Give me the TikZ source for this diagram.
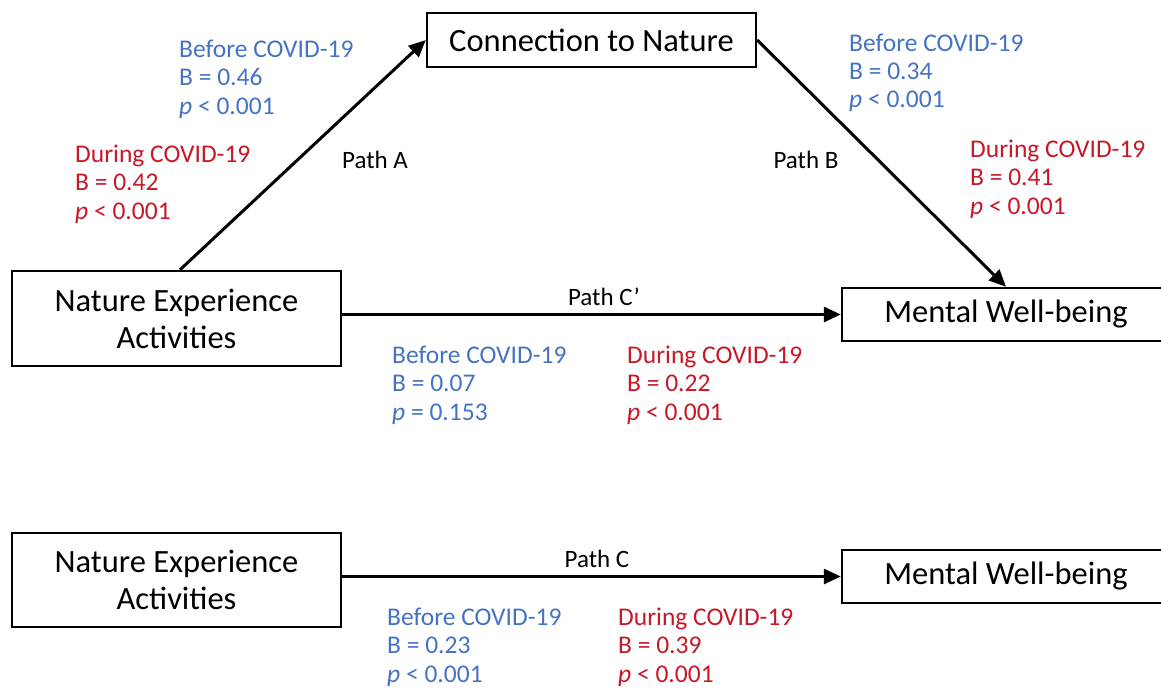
\documentclass[tikz,border=0pt]{standalone}
\usepackage{fontspec}
\setmainfont{Carlito}
\usetikzlibrary{arrows.meta,calc}
\definecolor{bcol}{RGB}{68,114,196}
\definecolor{rcol}{RGB}{198,24,38}
\begin{document}
\begin{tikzpicture}[x=1pt,y=-1pt,
  box/.style={draw=black,line width=2.4pt,fill=white,align=center,inner sep=0pt,
    font=\fontsize{32.5}{37}\selectfont},
  arr/.style={line width=3pt,-{Triangle[length=17pt,width=15pt]}},
  lbl/.style={anchor=base west,align=left,inner sep=0pt,font=\fontsize{25.5}{28.4}\selectfont},
  plbl/.style={anchor=base,inner sep=0pt,font=\fontsize{25}{28.4}\selectfont}]
\useasboundingbox (0,0) rectangle (1161,690);
% boxes
\node[box,minimum width=329pt,minimum height=54pt] (cn) at (591.5,40) {Connection to Nature};
\node[box,minimum width=329pt,minimum height=95pt] (nea) at (176.5,318.5) {Nature Experience\\Activities};
\node[box,minimum width=328pt,minimum height=53pt] (mwb) at (1006,314.5) {Mental Well-being};
\node[box,minimum width=329pt,minimum height=94pt] (nea2) at (176.5,580) {Nature Experience\\Activities};
\node[box,minimum width=328pt,minimum height=53pt] (mwb2) at (1006,576.5) {Mental Well-being};
% connectors
\draw[arr] ($(nea.north)+(3.5,0)$) -- (cn.west);
\draw[arr] (cn.east) -- (mwb.north);
\draw[arr] (nea.east |- mwb.west) -- (mwb.west);
\draw[arr] (nea2.east |- mwb2.west) -- (mwb2.west);
% path labels
\node[plbl] (pa) at (375,168) {Path A};
\node[plbl] (pb) at (806,168) {Path B};
\node[plbl] (pcp) at (604,305) {Path C’};
\node[plbl] (pc) at (597,567) {Path C};
% coefficient labels (anchor = baseline of last line)
\node[lbl,text=bcol] (ab) at (179,114) {Before COVID-19\\B = 0.46\\\textit{p} < 0.001};
\node[lbl,text=rcol] (ad) at (75,219) {During COVID-19\\B = 0.42\\\textit{p} < 0.001};
\node[lbl,text=bcol] (bb) at (849,108) {Before COVID-19\\B = 0.34\\\textit{p} < 0.001};
\node[lbl,text=rcol] (bd) at (970,214) {During COVID-19\\B = 0.41\\\textit{p} < 0.001};
\node[lbl,text=bcol] (cpb) at (392,420) {Before COVID-19\\B = 0.07\\\textit{p} = 0.153};
\node[lbl,text=rcol] (cpd) at (627,420) {During COVID-19\\B = 0.22\\\textit{p} < 0.001};
\node[lbl,text=bcol] (cb) at (387,682) {Before COVID-19\\B = 0.23\\\textit{p} < 0.001};
\node[lbl,text=rcol] (cd) at (618,682) {During COVID-19\\B = 0.39\\\textit{p} < 0.001};
\end{tikzpicture}
\end{document}
